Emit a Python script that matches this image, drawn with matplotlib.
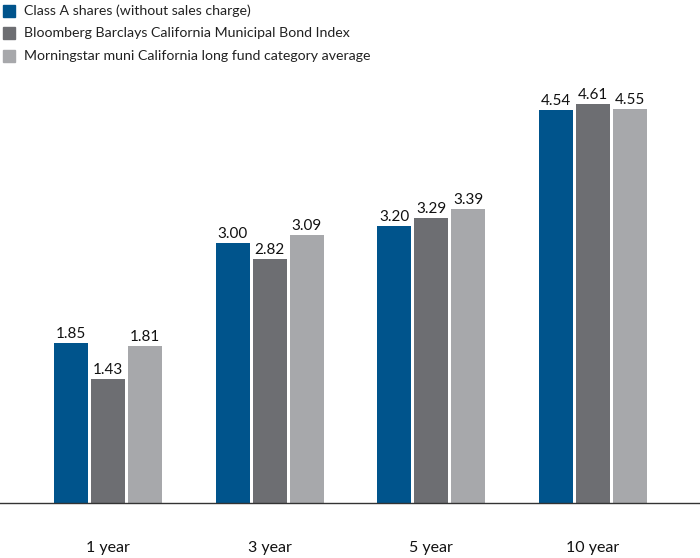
import matplotlib
matplotlib.use("Agg")
import matplotlib.pyplot as plt
from matplotlib.patches import Rectangle

categories = ["1 year", "3 year", "5 year", "10 year"]
series_names = [
    "Class A shares (without sales charge)",
    "Bloomberg Barclays California Municipal Bond Index",
    "Morningstar muni California long fund category average",
]
class_a = [1.85, 3.00, 3.20, 4.54]
bloomberg = [1.43, 2.82, 3.29, 4.61]
morningstar = [1.81, 3.09, 3.39, 4.55]
colors = ["#00548C", "#6D6E72", "#A7A8AB"]

plt.rcParams['font.family'] = ['Lato', 'DejaVu Sans']

W, H = 700, 558
fig = plt.figure(figsize=(W / 100, H / 100), dpi=100)
ax_bottom = 503
ax_top = 53
ax = fig.add_axes([0, 1 - ax_bottom / H, 1, (ax_bottom - ax_top) / H])

spacing = 161.7
left = -108 / spacing
right = (W - 108) / spacing
ax.set_xlim(left, right)
ax.set_ylim(0, (ax_bottom - ax_top) / 86.6)

bw = 34 / spacing
off = 37 / spacing
for i, (vals, c) in enumerate(zip([class_a, bloomberg, morningstar], colors)):
    xs = [k + (i - 1) * off for k in range(len(categories))]
    ax.bar(xs, vals, width=bw, color=c, edgecolor='none', zorder=2)
    for x, v in zip(xs, vals):
        ax.text(x, v + 0.025, f"{v:.2f}", ha='center', va='bottom', fontsize=11, color='#111111')

for s in ['top', 'right', 'left']:
    ax.spines[s].set_visible(False)
ax.spines['bottom'].set_color('#333333')
ax.spines['bottom'].set_linewidth(1.0)
ax.set_yticks([])
ax.set_xticks([])

for k, cat in enumerate(categories):
    ax.text(k, -0.52, cat, ha='center', va='center', fontsize=11.5, color='#111111', transform=ax.transData, clip_on=False)

leg_y = [11, 33, 56]
for name, c, y in zip(series_names, colors, leg_y):
    fig.patches.append(Rectangle((3 / W, 1 - (y + 6) / H), 12 / W, 12 / H, transform=fig.transFigure, color=c, figure=fig))
    fig.text(24 / W, 1 - y / H, name, ha='left', va='center', fontsize=10.2, color='#222222')

fig.savefig("out.png", dpi=100)
